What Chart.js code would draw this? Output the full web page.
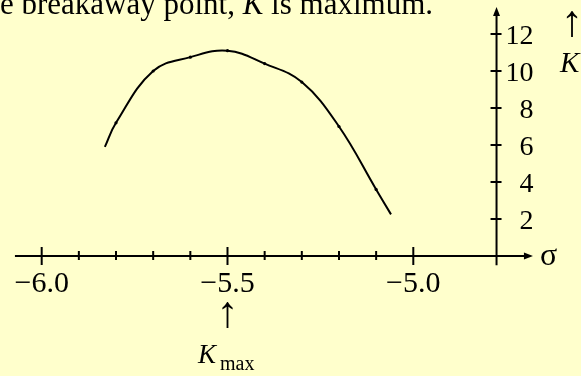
<!DOCTYPE html>
<html>
<head>
<meta charset="utf-8">
<script src="https://cdn.jsdelivr.net/npm/chart.js@4"></script>
<style>
  html, body { margin: 0; padding: 0; background: #ffffcc; }
  #wrap { width: 581px; height: 376px; overflow: hidden; }
</style>
</head>
<body>
<div id="wrap"><canvas id="rootLocus" width="581" height="376"></canvas></div>
<script>
// gain K along the real axis between the two poles
const sigma = [-5.83, -5.8, -5.7, -5.6, -5.5, -5.4, -5.3, -5.2, -5.1, -5.06];
const gain  = [5.9, 7.2, 10.0, 10.75, 11.1, 10.4, 9.4, 7.0, 3.6, 2.25];
const markerSizes = [0, 1.6, 1.6, 1.6, 1.6, 1.6, 1.6, 1.6, 1.6, 0];

const xMajor = [-6.0, -5.5, -5.0];
const xMajorLabels = ['\u22126.0', '\u22125.5', '\u22125.0'];
const xMinor = [-5.9, -5.8, -5.7, -5.6, -5.4, -5.3, -5.2, -5.1];
const yTicks = [2, 4, 6, 8, 10, 12];
const yTickLabels = ['2', '4', '6', '8', '10', '12'];

const yAxisAt = -4.776;   // where the K axis crosses sigma
const kMaxAt = -5.5;      // breakaway point

const SERIF = '"Liberation Serif", "Times New Roman", serif';

const axesPlugin = {
  id: 'axesPlugin',
  beforeDatasetsDraw(chart) {
    const ctx = chart.ctx;
    const xs = chart.scales.x, ys = chart.scales.y;
    const y0 = ys.getPixelForValue(0);
    const xK = xs.getPixelForValue(yAxisAt);
    ctx.save();
    ctx.strokeStyle = '#000';
    ctx.fillStyle = '#000';
    ctx.lineWidth = 2;

    // sigma axis
    const xStart = xs.getPixelForValue(-6.072);
    const xEnd = xs.getPixelForValue(-4.678);
    ctx.beginPath();
    ctx.moveTo(xStart, y0);
    ctx.lineTo(xEnd - 8, y0);
    ctx.stroke();
    ctx.beginPath();
    ctx.moveTo(xEnd, y0);
    ctx.lineTo(xEnd - 9, y0 - 3.5);
    ctx.lineTo(xEnd - 9, y0 + 3.5);
    ctx.closePath();
    ctx.fill();

    // K axis
    const yTop = ys.getPixelForValue(13.46);
    const yBottom = ys.getPixelForValue(-0.5);
    ctx.beginPath();
    ctx.moveTo(xK, yBottom);
    ctx.lineTo(xK, yTop + 8);
    ctx.stroke();
    ctx.beginPath();
    ctx.moveTo(xK, yTop);
    ctx.lineTo(xK - 3.5, yTop + 9);
    ctx.lineTo(xK + 3.5, yTop + 9);
    ctx.closePath();
    ctx.fill();

    // ticks on sigma axis
    xMajor.forEach(v => {
      const px = xs.getPixelForValue(v);
      ctx.beginPath();
      ctx.moveTo(px, y0 - 9);
      ctx.lineTo(px, y0 + 9);
      ctx.stroke();
    });
    xMinor.forEach(v => {
      const px = xs.getPixelForValue(v);
      ctx.beginPath();
      ctx.moveTo(px, y0 - 5);
      ctx.lineTo(px, y0 + 4);
      ctx.stroke();
    });
    // ticks on K axis
    yTicks.forEach(v => {
      const py = ys.getPixelForValue(v);
      ctx.beginPath();
      ctx.moveTo(xK - 6, py);
      ctx.lineTo(xK + 5, py);
      ctx.stroke();
    });

    ctx.font = '30px ' + SERIF;
    ctx.textAlign = 'center';
    ctx.textBaseline = 'alphabetic';
    xMajor.forEach((v, i) => {
      ctx.fillText(xMajorLabels[i], xs.getPixelForValue(v), y0 + 36);
    });
    ctx.font = '28px ' + SERIF;
    ctx.textAlign = 'right';
    yTicks.forEach((v, i) => {
      ctx.fillText(yTickLabels[i], xK + 37, ys.getPixelForValue(v) + 10);
    });
    ctx.textAlign = 'left';
    ctx.font = '32px ' + SERIF;
    ctx.fillText('\u03c3', xEnd + 7, y0 + 9);
    ctx.restore();
  },
  afterDraw(chart) {
    const ctx = chart.ctx;
    const xs = chart.scales.x;
    ctx.save();
    ctx.fillStyle = '#000';
    ctx.textBaseline = 'alphabetic';

    // caption line
    const parts = [
      ['At the breakaway point, ', ''],
      ['K', 'italic '],
      [' is maximum.', '']
    ];
    let total = 0;
    const widths = parts.map(([t, s]) => {
      ctx.font = s + '31px ' + SERIF;
      const w = ctx.measureText(t).width;
      total += w;
      return w;
    });
    let x = 433 - total;
    parts.forEach(([t, s], i) => {
      ctx.font = s + '31px ' + SERIF;
      ctx.fillText(t, x, 14);
      x += widths[i];
    });

    // K label beside the vertical axis
    ctx.textAlign = 'center';
    ctx.font = '44px ' + SERIF;
    ctx.fillText('\u2191', 572, 36);
    ctx.textAlign = 'left';
    ctx.font = 'italic 29px ' + SERIF;
    ctx.fillText('K', 560, 72);

    // K_max marker under the breakaway point
    const pk = xs.getPixelForValue(kMaxAt);
    ctx.textAlign = 'center';
    ctx.font = '44px ' + SERIF;
    ctx.fillText('\u2191', pk, 327);
    ctx.textAlign = 'left';
    ctx.font = 'italic 27px ' + SERIF;
    ctx.fillText('K', 198, 363);
    ctx.font = '20px ' + SERIF;
    ctx.fillText('max', 220, 370);
    ctx.restore();
  }
};

new Chart(document.getElementById('rootLocus').getContext('2d'), {
  type: 'line',
  data: {
    datasets: [{
      data: sigma.map((s, i) => ({ x: s, y: gain[i] })),
      borderColor: '#000',
      borderWidth: 2,
      tension: 0.4,
      fill: false,
      pointRadius: markerSizes,
      pointBackgroundColor: '#000',
      pointBorderWidth: 0
    }]
  },
  options: {
    responsive: false,
    animation: false,
    events: [],
    layout: { padding: 0 },
    plugins: { legend: { display: false }, tooltip: { enabled: false } },
    scales: {
      x: { type: 'linear', min: -6.1122, max: -4.5487, display: false },
      y: { type: 'linear', min: -6.486, max: 13.838, display: false }
    }
  },
  plugins: [axesPlugin]
});
</script>
</body>
</html>
